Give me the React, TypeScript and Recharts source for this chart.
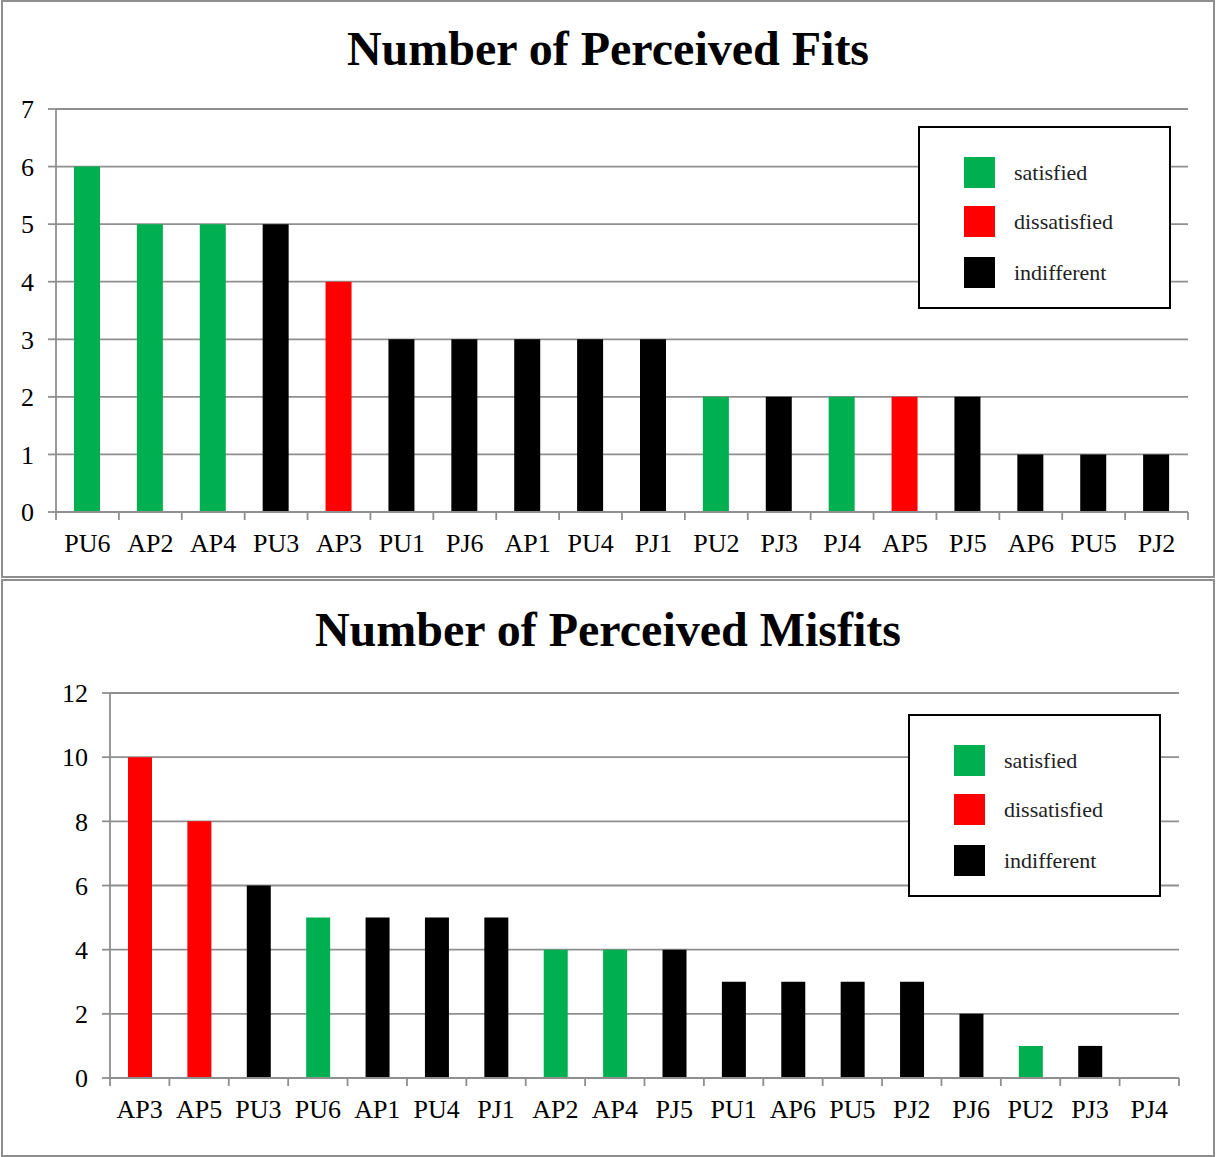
import { BarChart, Bar, XAxis, YAxis, CartesianGrid, Cell, Legend } from "recharts";

const FONT = '"Liberation Serif", "Times New Roman", Times, serif';
const GRID = "#8f8f8f";
const LINE_W = 1.8;
const PANEL_W = 1216;
const PANEL_H = 578;

// legend entries
const moods = ["satisfied", "dissatisfied", "indifferent"];
const moodColors = ["#00B050", "#FF0000", "#000000"];

// Number of Perceived Fits
const fitItems = ["PU6", "AP2", "AP4", "PU3", "AP3", "PU1", "PJ6", "AP1", "PU4", "PJ1", "PU2", "PJ3", "PJ4", "AP5", "PJ5", "AP6", "PU5", "PJ2"];
const fitCounts = [6, 5, 5, 5, 4, 3, 3, 3, 3, 3, 2, 2, 2, 2, 2, 1, 1, 1];
const fitMoods = [
  "satisfied", "satisfied", "satisfied", "indifferent", "dissatisfied", "indifferent",
  "indifferent", "indifferent", "indifferent", "indifferent", "satisfied", "indifferent",
  "satisfied", "dissatisfied", "indifferent", "indifferent", "indifferent", "indifferent",
];
const fitTicks = [0, 1, 2, 3, 4, 5, 6, 7];

// Number of Perceived Misfits
const misfitItems = ["AP3", "AP5", "PU3", "PU6", "AP1", "PU4", "PJ1", "AP2", "AP4", "PJ5", "PU1", "AP6", "PU5", "PJ2", "PJ6", "PU2", "PJ3", "PJ4"];
const misfitCounts = [10, 8, 6, 5, 5, 5, 5, 4, 4, 4, 3, 3, 3, 3, 2, 1, 1, 0];
const misfitMoods = [
  "dissatisfied", "dissatisfied", "indifferent", "satisfied", "indifferent", "indifferent",
  "indifferent", "satisfied", "satisfied", "indifferent", "indifferent", "indifferent",
  "indifferent", "indifferent", "indifferent", "satisfied", "indifferent", "indifferent",
];
const misfitTicks = [0, 2, 4, 6, 8, 10, 12];

const colorOf = (mood: string) => moodColors[moods.indexOf(mood)];

function LegendBox() {
  return (
    <div
      style={{
        width: 253,
        height: 183,
        boxSizing: "border-box",
        border: "2px solid #000",
        background: "#fff",
        position: "relative",
        fontFamily: FONT,
      }}
    >
      {moods.map((m, i) => (
        <div key={m}>
          <div
            style={{
              position: "absolute",
              left: 44,
              top: [29, 78, 129][i],
              width: 31,
              height: 31,
              background: moodColors[i],
            }}
          />
          <div
            style={{
              position: "absolute",
              left: 94,
              top: [29, 78, 129][i],
              height: 31,
              lineHeight: "31px",
              fontSize: 22,
              color: "#222",
            }}
          >
            {m}
          </div>
        </div>
      ))}
    </div>
  );
}

function PanelChart({
  top,
  title,
  titleTop,
  items,
  counts,
  kinds,
  ticks,
  plot,
  barSize,
  legendAt,
}: {
  top: number;
  title: string;
  titleTop: number;
  items: string[];
  counts: number[];
  kinds: string[];
  ticks: number[];
  plot: { left: number; right: number; top: number; bottom: number };
  barSize: number;
  legendAt: { left: number; top: number };
}) {
  const data = items.map((name, i) => ({ name, count: counts[i], mood: kinds[i] }));
  const bw = (plot.right - plot.left) / items.length;
  const yAxisW = plot.left - 8;

  // ticks sit between categories, labels in the middle
  const renderXTick = (props: any) => {
    const { x, y, payload, index } = props;
    const left = x - bw / 2;
    return (
      <g>
        <line x1={left} x2={left} y1={y} y2={y + 8} stroke={GRID} strokeWidth={LINE_W} />
        {index === items.length - 1 && (
          <line x1={x + bw / 2} x2={x + bw / 2} y1={y} y2={y + 8} stroke={GRID} strokeWidth={LINE_W} />
        )}
        <text x={x} y={y + 40} textAnchor="middle" fontSize={26} fontFamily={FONT} fill="#000">
          {payload.value}
        </text>
      </g>
    );
  };

  return (
    <div style={{ position: "absolute", left: 0, top, width: PANEL_W, height: PANEL_H }}>
      <div
        style={{
          position: "absolute",
          left: 1,
          top: 0,
          width: PANEL_W - 2,
          height: PANEL_H,
          boxSizing: "border-box",
          border: "2px solid #8e8e8e",
        }}
      />
      <div
        style={{
          position: "absolute",
          left: 0,
          top: titleTop,
          width: PANEL_W,
          textAlign: "center",
          fontFamily: FONT,
          fontWeight: "bold",
          fontSize: 48,
          lineHeight: 1,
          color: "#000",
        }}
      >
        {title}
      </div>
      <div style={{ position: "absolute", left: 0, top: 0 }}>
        <BarChart
          width={PANEL_W}
          height={PANEL_H}
          data={data}
          margin={{ top: plot.top, right: PANEL_W - plot.right, left: 8, bottom: PANEL_H - plot.bottom - 40 }}
        >
          <CartesianGrid vertical={false} stroke={GRID} strokeWidth={LINE_W} />
          <XAxis
            dataKey="name"
            height={40}
            interval={0}
            tickLine={false}
            tickSize={0}
            tickMargin={0}
            axisLine={{ stroke: GRID, strokeWidth: LINE_W }}
            tick={renderXTick}
          />
          <YAxis
            width={yAxisW}
            domain={[ticks[0], ticks[ticks.length - 1]]}
            ticks={ticks}
            interval={0}
            tickSize={8}
            tickMargin={14}
            tickLine={{ stroke: GRID, strokeWidth: LINE_W }}
            axisLine={{ stroke: GRID, strokeWidth: LINE_W }}
            tick={{ fill: "#000", fontSize: 26, fontFamily: FONT }}
          />
          <Bar dataKey="count" barSize={barSize} isAnimationActive={false}>
            {data.map((d, i) => (
              <Cell key={i} fill={colorOf(d.mood)} />
            ))}
          </Bar>
          <Legend
            layout="vertical"
            align="center"
            verticalAlign="middle"
            wrapperStyle={{ left: legendAt.left, top: legendAt.top, width: 253, height: 183 }}
            content={() => <LegendBox />}
          />
        </BarChart>
      </div>
    </div>
  );
}

export default function App() {
  return (
    <div style={{ position: "absolute", left: 0, top: 0, width: 1216, height: 1157, background: "#fff" }}>
      <PanelChart
        top={0}
        title="Number of Perceived Fits"
        titleTop={25}
        items={fitItems}
        counts={fitCounts}
        kinds={fitMoods}
        ticks={fitTicks}
        plot={{ left: 56, right: 1188, top: 109, bottom: 512 }}
        barSize={26}
        legendAt={{ left: 918, top: 126 }}
      />
      <PanelChart
        top={579}
        title="Number of Perceived Misfits"
        titleTop={27}
        items={misfitItems}
        counts={misfitCounts}
        kinds={misfitMoods}
        ticks={misfitTicks}
        plot={{ left: 110, right: 1179, top: 114, bottom: 499 }}
        barSize={24}
        legendAt={{ left: 908, top: 135 }}
      />
    </div>
  );
}
